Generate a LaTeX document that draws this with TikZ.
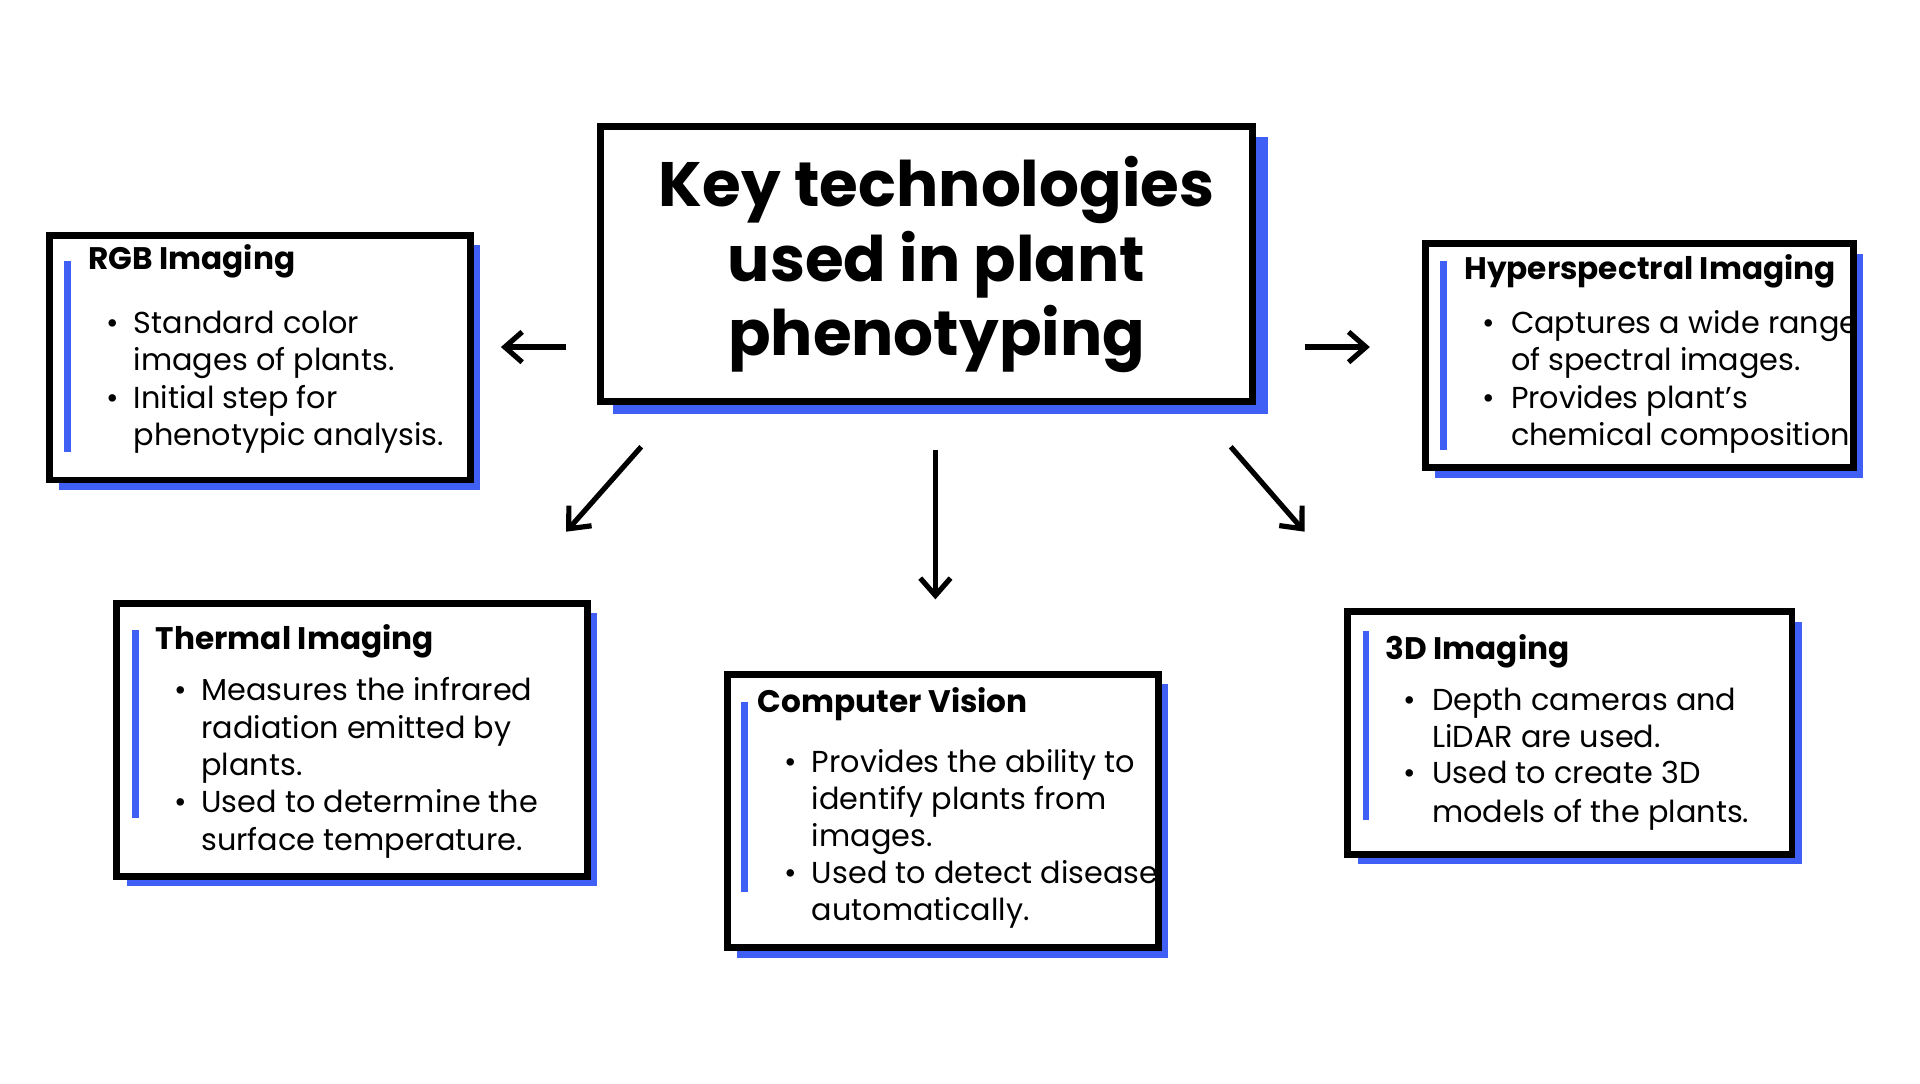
\documentclass[tikz,border=0pt]{standalone}
\usepackage{fontspec}
\setmainfont{Poppins}
\usetikzlibrary{calc}
\definecolor{shadowblue}{HTML}{3F5FF5}
\tikzset{
  card/.style={draw=black,line width=1.6pt,fill=white},
  shade/.style={fill=shadowblue},
  bar/.style={draw=shadowblue,line width=1.5pt},
  head/.style={anchor=base west,inner sep=0pt,font=\fontsize{7.2}{8.5}\selectfont\bfseries},
  item/.style={anchor=base west,inner sep=0pt,font=\fontsize{7}{8.5}\selectfont},
  link/.style={->,line width=1.2pt,>={Straight Barb[length=4pt,width=7pt]}}
}
\usetikzlibrary{arrows.meta}
% one card: corners, then blue shadow
\newcommand{\techcard}[5]{%
  \fill[shadowblue] ($(#2,#3)+(8,8)$) rectangle ($(#4,#5)+(8,8)$);
  \draw[card] (#2,#3) rectangle (#4,#5);
  \coordinate (#1) at (#2,#3);
}
\begin{document}
\begin{tikzpicture}[x=0.01cm,y=-0.01cm]
  \useasboundingbox (0,0) rectangle (1560,880);
  %centre
  \fill[shadowblue] (498,111) rectangle (1030,336);
  \draw[card] (488,103) rectangle (1018,326);
  \node[font=\fontsize{14.5}{17.3}\selectfont\bfseries,align=center] (key) at (761,215)
    {Key technologies\\used in plant\\phenotyping};
  %RGB
  \techcard{rgb}{40}{191}{382}{390}
  \draw[bar] (55,212) -- (55,367);
  \node[head] at (71,219) {RGB Imaging};
  \node[item] at (86,271) {\textbullet};
  \node[item] at (108,271) {Standard color};
  \node[item] at (108,301) {images of plants.};
  \node[item] at (86,332) {\textbullet};
  \node[item] at (108,332) {Initial step for};
  \node[item] at (108,362) {phenotypic analysis.};
  %hyperspectral
  \techcard{hyp}{1158}{198}{1506}{380}
  \draw[bar] (1173,212) -- (1173,366);
  \node[head] at (1189,227) {Hyperspectral Imaging};
  \node[item] at (1204,271) {\textbullet};
  \node[item] at (1227,271) {Captures a wide range};
  \node[item] at (1227,301) {of spectral images.};
  \node[item] at (1204,332) {\textbullet};
  \node[item] at (1227,332) {Provides plant’s};
  \node[item] at (1227,362) {chemical composition.};
  %thermal
  \techcard{thm}{95}{490}{477}{712}
  \draw[bar] (110,512) -- (110,665);
  \node[head] at (126,528) {Thermal Imaging};
  \node[item] at (141,569) {\textbullet};
  \node[item] at (163,569) {Measures the infrared};
  \node[item] at (163,600) {radiation emitted by};
  \node[item] at (163,630) {plants.};
  \node[item] at (141,660) {\textbullet};
  \node[item] at (163,660) {Used to determine the};
  \node[item] at (163,691) {surface temperature.};
  %computer vision
  \techcard{cv}{591}{548}{941}{770}
  \draw[bar] (605,570) -- (605,725);
  \node[head] at (615,579) {Computer Vision};
  \node[item] at (637,628) {\textbullet};
  \node[item] at (659,628) {Provides the ability to};
  \node[item] at (659,658) {identify plants from};
  \node[item] at (659,688) {images.};
  \node[item] at (637,718) {\textbullet};
  \node[item] at (659,718) {Used to detect disease};
  \node[item] at (659,748) {automatically.};
  %3D
  \techcard{thd}{1095}{497}{1456}{694}
  \draw[bar] (1110,513) -- (1110,666);
  \node[head] at (1125,536) {3D Imaging};
  \node[item] at (1140,577) {\textbullet};
  \node[item] at (1163,577) {Depth cameras and};
  \node[item] at (1163,607) {LiDAR are used.};
  \node[item] at (1140,637) {\textbullet};
  \node[item] at (1163,637) {Used to create 3D};
  \node[item] at (1163,668) {models of the plants.};
  %arrows
  \coordinate (l0) at (460,282); \coordinate (l1) at (407,282);
  \coordinate (r0) at (1060,282); \coordinate (r1) at (1113,282);
  \coordinate (dl0) at (521,363); \coordinate (dl1) at (460,432);
  \coordinate (d0) at (760,366); \coordinate (d1) at (760,487);
  \coordinate (dr0) at (1000,363); \coordinate (dr1) at (1060,432);
  \draw[link] (l0) -- (l1);
  \draw[link] (r0) -- (r1);
  \draw[link] (dl0) -- (dl1);
  \draw[link] (d0) -- (d1);
  \draw[link] (dr0) -- (dr1);
\end{tikzpicture}
\end{document}
